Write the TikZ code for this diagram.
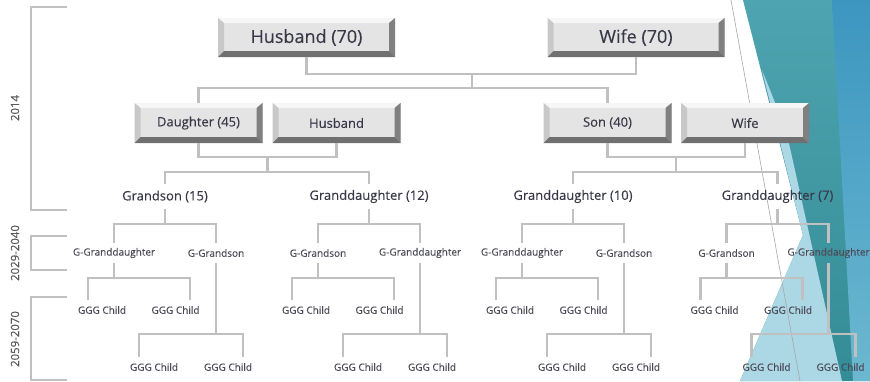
\documentclass[tikz,border=0pt]{standalone}
\usepackage{fontspec}
\setmainfont{Open Sans}[FakeBold=0.25]
\usetikzlibrary{calc}
\definecolor{btnFace}{RGB}{228,228,228}
\definecolor{btnLight}{RGB}{246,246,246}
\definecolor{btnLeft}{RGB}{200,200,200}
\definecolor{btnRight}{RGB}{128,128,128}
\definecolor{btnBottom}{RGB}{112,112,112}
\definecolor{txtDark}{RGB}{56,56,72}
\definecolor{txtSoft}{RGB}{76,76,88}
\definecolor{yrGray}{RGB}{89,89,89}
\definecolor{linkGray}{RGB}{192,192,192}
\definecolor{facetTeal}{RGB}{78,164,176}
\definecolor{facetTealDark}{RGB}{52,140,150}
\definecolor{facetBlue}{RGB}{60,150,192}
\definecolor{facetSky}{RGB}{108,184,208}
\definecolor{facetPale}{RGB}{172,216,229}
\tikzset{
    every node/.append style={align=center},
    btn/.style={fill=btnFace,text=txtDark,inner sep=0pt,
        path picture={
            \fill[btnLight] (path picture bounding box.north west) -- (path picture bounding box.north east)
                -- ([xshift=-6pt,yshift=-5pt]path picture bounding box.north east)
                -- ([xshift=6pt,yshift=-5pt]path picture bounding box.north west) -- cycle;
            \fill[btnLeft] (path picture bounding box.north west) -- (path picture bounding box.south west)
                -- ([xshift=6pt,yshift=6pt]path picture bounding box.south west)
                -- ([xshift=6pt,yshift=-5pt]path picture bounding box.north west) -- cycle;
            \fill[btnRight] (path picture bounding box.north east) -- (path picture bounding box.south east)
                -- ([xshift=-6pt,yshift=6pt]path picture bounding box.south east)
                -- ([xshift=-6pt,yshift=-5pt]path picture bounding box.north east) -- cycle;
            \fill[btnBottom] (path picture bounding box.south west) -- (path picture bounding box.south east)
                -- ([xshift=-6pt,yshift=6pt]path picture bounding box.south east)
                -- ([xshift=6pt,yshift=6pt]path picture bounding box.south west) -- cycle;
        }},
    elder/.style={btn,font=\fontsize{18}{20}\selectfont,minimum width=177pt,minimum height=39pt},
    parent/.style={btn,font=\fontsize{13}{15}\selectfont,minimum width=128pt,minimum height=40pt},
    grand/.style={font=\fontsize{13}{15}\selectfont,text=txtDark,minimum height=25pt,inner sep=0pt},
    small/.style={font=\fontsize{10}{12}\selectfont,text=txtSoft,minimum height=19pt,inner sep=0pt},
    link/.style={draw=linkGray,line width=2.5pt},
    bracket/.style={draw=linkGray,line width=2.5pt},
    yr/.style={rotate=90,font=\fontsize{11.4}{13}\selectfont,text=yrGray,inner sep=0pt}
}
\begin{document}
\begin{tikzpicture}[x=1pt,y=-1pt]
    \useasboundingbox (0,0) rectangle (870,381);

    % facet backdrop on the right
    \shade[top color=facetTeal,bottom color=facetTealDark] (743,0) -- (870,0) -- (870,381) -- (740,381) -- (803,235) -- cycle;
    \shade[top color=facetBlue,bottom color=facetSky] (832,0) -- (870,0) -- (870,381) -- (853,381) -- cycle;
    \fill[facetPale] (762,70) -- (803,235) -- (740,381) -- (842,381) -- (786,130) -- cycle;
    \draw[black!35,line width=0.6pt] (731,0) -- (800,381);

    % time brackets
    \draw[bracket] (67,7) -- (31,7) -- (31,210) -- (67,210);
    \draw[bracket] (67,236) -- (31,236) -- (31,270) -- (67,270);
    \draw[bracket] (67,297) -- (31,297) -- (31,380) -- (67,380);
    \node[yr] (y2014) at (15,108) {2014};
    \node[yr] (y2029) at (15,253) {2029-2040};
    \node[yr] (y2059) at (15,339) {2059-2070};

    % couples
    \node[elder] (hus70)  at (306.5,37.5) {Husband (70)};
    \node[elder] (wife70) at (636,37.5)   {Wife (70)};
    \node[parent] (dau)  at (198.5,123) {Daughter (45)};
    \node[parent] (husb) at (336.5,123) {Husband};
    \node[parent] (son)  at (607.5,123) {Son (40)};
    \node[parent] (wife) at (745,123)   {Wife};

    \node[grand] (gc1) at (165,196.5)   {Grandson (15)};
    \node[grand] (gc2) at (369,196.5)   {Granddaughter (12)};
    \node[grand] (gc3) at (573,196.5)   {Granddaughter (10)};
    \node[grand] (gc4) at (777.5,196.5) {Granddaughter (7)};

    \coordinate (top) at (472,74);
    \coordinate (kb0) at (472,88);
    \coordinate (cp1) at (267.5,157);
    \coordinate (kb1) at (267.5,172);
    \coordinate (cp2) at (676,157);
    \coordinate (kb2) at (676,172);

    \draw[link] (hus70.south) |- (top) -| (wife70.south);
    \draw[link] (top) -- (kb0);
    \draw[link] (dau.north) |- (kb0) -| (son.north);
    \draw[link] (dau.south) |- (cp1) -| (husb.south);
    \draw[link] (cp1) -- (kb1);
    \draw[link] (gc1.north) |- (kb1) -| (gc2.north);
    \draw[link] (son.south) |- (cp2) -| (wife.south);
    \draw[link] (cp2) -- (kb2);
    \draw[link] (gc3.north) |- (kb2) -| (gc4.north);

    % great-grandchildren and their children
    \foreach \p/\f/\la/\lb in {165/1/G-Granddaughter/G-Grandson,369/2/G-Grandson/G-Granddaughter,
                               573/3/G-Granddaughter/G-Grandson,777.5/4/G-Grandson/G-Granddaughter} {
        \node[small] (ga\f) at (\p-51,253) {\la};
        \node[small] (gb\f) at (\p+51,253) {\lb};
        \node[small] (ca\f) at (\p-63,310)   {GGG Child};
        \node[small] (cb\f) at (\p+10.5,310) {GGG Child};
        \node[small] (da\f) at (\p-11,367)   {GGG Child};
        \node[small] (db\f) at (\p+63,367)   {GGG Child};
        \coordinate (g\f) at (\p,224);
        \coordinate (ha\f) at (\p-51,278);
        \coordinate (hb\f) at (\p+51,334);
        \draw[link] (gc\f.south) -- (g\f);
        \draw[link] (ga\f.north) |- (g\f) -| (gb\f.north);
        \draw[link] (ga\f.south) -- (ha\f);
        \draw[link] ([xshift=-14pt]ca\f.north) |- (ha\f) -| ([xshift=14.5pt]cb\f.north);
        \draw[link] (gb\f.south) -- (hb\f);
        \draw[link] ([xshift=-15pt]da\f.north) |- (hb\f) -| ([xshift=15pt]db\f.north);
    }
\end{tikzpicture}
\end{document}
